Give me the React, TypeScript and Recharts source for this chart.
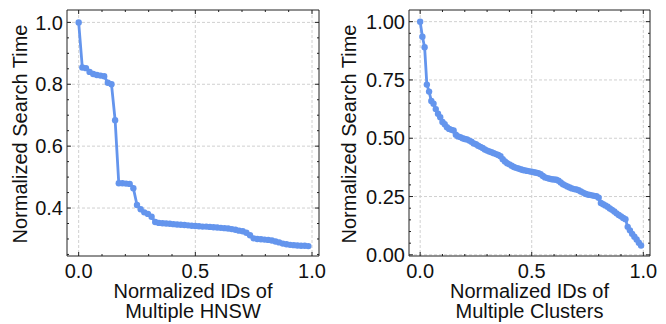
import React from 'react';
import { LineChart, Line, XAxis, YAxis, CartesianGrid, ReferenceArea, Label } from 'recharts';

// ---------- data ----------
const hnswTimes = [
  1.0, 0.854, 0.852, 0.84, 0.833, 0.83, 0.828, 0.826, 0.805, 0.8,
  0.684, 0.48, 0.48, 0.479, 0.478, 0.464, 0.41, 0.396, 0.386, 0.381,
  0.372, 0.355, 0.352, 0.351, 0.35, 0.349, 0.348, 0.347, 0.346, 0.345,
  0.344, 0.343, 0.342, 0.341, 0.34, 0.34, 0.339, 0.338, 0.337, 0.336,
  0.335, 0.334, 0.332, 0.33, 0.327, 0.325, 0.32, 0.312, 0.302, 0.3,
  0.299, 0.298, 0.297, 0.295, 0.292, 0.289, 0.285, 0.283, 0.281, 0.28,
  0.279, 0.278, 0.278, 0.277,
];

const clusterTimes = [
  1.0, 0.935, 0.89, 0.73, 0.7, 0.66, 0.648, 0.625, 0.605, 0.59,
  0.57, 0.56, 0.547, 0.54, 0.536, 0.533, 0.515, 0.508, 0.505, 0.5,
  0.497, 0.495, 0.49, 0.485, 0.478, 0.474, 0.468, 0.463, 0.458, 0.452,
  0.447, 0.443, 0.44, 0.436, 0.432, 0.428, 0.423, 0.41, 0.4, 0.393,
  0.388, 0.382, 0.377, 0.373, 0.37, 0.367, 0.364, 0.362, 0.36, 0.358,
  0.356, 0.354, 0.352, 0.35, 0.346, 0.338, 0.332, 0.329, 0.326, 0.324,
  0.323, 0.322, 0.318, 0.31, 0.303, 0.298, 0.293, 0.289, 0.285, 0.282,
  0.28, 0.277, 0.272, 0.267, 0.262, 0.259, 0.257, 0.255, 0.253, 0.251,
  0.245, 0.222, 0.217, 0.212, 0.206, 0.199, 0.193, 0.186, 0.178, 0.171,
  0.165, 0.158, 0.153, 0.12, 0.105, 0.09, 0.078, 0.066, 0.052, 0.04,
];

const xTicksAll = [0, 0.1, 0.2, 0.3, 0.4, 0.5, 0.6, 0.7, 0.8, 0.9, 1.0];
const xMajorTicks = [0, 0.5, 1.0];

const hnswYTicksAll = [0.25, 0.3, 0.35, 0.4, 0.45, 0.5, 0.55, 0.6, 0.65, 0.7, 0.75, 0.8, 0.85, 0.9, 0.95, 1.0];
const hnswYMajorTicks = [0.4, 0.6, 0.8, 1.0];

const clusterYTicksAll = [0, 0.05, 0.1, 0.15, 0.2, 0.25, 0.3, 0.35, 0.4, 0.45, 0.5, 0.55, 0.6, 0.65, 0.7, 0.75, 0.8, 0.85, 0.9, 0.95, 1.0];
const clusterYMajorTicks = [0, 0.25, 0.5, 0.75, 1.0];

const yLabelText = 'Normalized Search Time';
const hnswXLabel = ['Normalized IDs of', 'Multiple HNSW'];
const clusterXLabel = ['Normalized IDs of', 'Multiple Clusters'];

const toRows = (vals: number[]) => vals.map((t, i) => ({ id: i / vals.length, time: t }));
const hnswData = toRows(hnswTimes);
const clusterData = toRows(clusterTimes);

// ---------- style / layout ----------
const FONT = '"Liberation Sans", Arial, Helvetica, sans-serif';
const BLUE = '#6495ED';
const FRAME = '#222';
const H = 324;
const TOP = 10;
const XAXIS_H = 68;
const PLOT_BOTTOM = H - XAXIS_H;
const FS = 20;
const LFS = 20;

const isMajor = (v: number, majors: number[]) => majors.some((m) => Math.abs(m - v) < 1e-9);

function Panel(props: any) {
  const { width, yW, mRight, data, xDomain, yDomain, yTicks, yMajors, yDecimals, xLabel, yLabelX } = props;
  const plotLeft = yW;
  const plotRight = width - mRight;
  const plotMidX = (plotLeft + plotRight) / 2;
  const plotMidY = (TOP + PLOT_BOTTOM) / 2 + 1;

  const XTick = (p: any) => {
    const c = p.payload.coordinate;
    const v = p.payload.value;
    const major = isMajor(v, xMajorTicks);
    const len = major ? 4 : 2;
    return (
      <g>
        <line x1={c} x2={c} y1={PLOT_BOTTOM} y2={PLOT_BOTTOM - len} stroke={FRAME} strokeWidth={1} />
        <line x1={c} x2={c} y1={TOP} y2={TOP + len} stroke={FRAME} strokeWidth={1} />
        {major && (
          <text x={c} y={PLOT_BOTTOM + 22} textAnchor="middle" fontSize={FS} fontFamily={FONT} fill="#111">
            {v.toFixed(1)}
          </text>
        )}
      </g>
    );
  };

  const YTick = (p: any) => {
    const c = p.payload.coordinate;
    const v = p.payload.value;
    const major = isMajor(v, yMajors);
    const len = major ? 4 : 2;
    return (
      <g>
        <line x1={plotLeft} x2={plotLeft + len} y1={c} y2={c} stroke={FRAME} strokeWidth={1} />
        <line x1={plotRight} x2={plotRight - len} y1={c} y2={c} stroke={FRAME} strokeWidth={1} />
        {major && (
          <text x={plotLeft - 4} y={c} dy="0.36em" textAnchor="end" fontSize={FS} fontFamily={FONT} fill="#111">
            {v.toFixed(yDecimals)}
          </text>
        )}
      </g>
    );
  };

  return (
    <LineChart width={width} height={H} data={data} margin={{ top: TOP, right: mRight, bottom: 0, left: 0 }}>
      <CartesianGrid
        stroke="#d0d0d0"
        strokeDasharray="3 2"
        horizontalValues={yMajors}
        verticalValues={xMajorTicks}
      />
      <XAxis
        dataKey="id"
        type="number"
        domain={xDomain}
        allowDataOverflow
        ticks={xTicksAll}
        interval={0}
        height={XAXIS_H}
        axisLine={false}
        tickLine={false}
        tick={XTick}
      >
        <Label
          content={() => (
            <g>
              <text x={plotMidX} y={PLOT_BOTTOM + 42} textAnchor="middle" fontSize={LFS} fontFamily={FONT} fill="#111">
                {xLabel[0]}
              </text>
              <text x={plotMidX} y={PLOT_BOTTOM + 62} textAnchor="middle" fontSize={LFS} fontFamily={FONT} fill="#111">
                {xLabel[1]}
              </text>
            </g>
          )}
        />
      </XAxis>
      <YAxis
        dataKey="time"
        type="number"
        domain={yDomain}
        allowDataOverflow
        ticks={yTicks}
        interval={0}
        width={yW}
        axisLine={false}
        tickLine={false}
        tick={YTick}
      >
        <Label
          content={() => (
            <text
              x={yLabelX}
              y={plotMidY}
              textAnchor="middle"
              fontSize={LFS}
              fontFamily={FONT}
              fill="#111"
              transform={`rotate(-90, ${yLabelX}, ${plotMidY})`}
            >
              {yLabelText}
            </text>
          )}
        />
      </YAxis>
      <ReferenceArea
        x1={xDomain[0]}
        x2={xDomain[1]}
        y1={yDomain[0]}
        y2={yDomain[1]}
        fill="none"
        fillOpacity={0}
        stroke={FRAME}
        strokeWidth={1}
        ifOverflow="visible"
      />
      <Line
        type="linear"
        dataKey="time"
        stroke={BLUE}
        strokeWidth={2.8}
        dot={{ r: 3.2, fill: BLUE, stroke: 'none' }}
        activeDot={false}
        isAnimationActive={false}
      />
    </LineChart>
  );
}

export default function App() {
  return (
    <div style={{ position: 'absolute', left: 0, top: 0, width: 666, height: 324, background: '#fff' }}>
      <div style={{ position: 'absolute', left: 0, top: 0 }}>
        <Panel
          width={333}
          yW={67}
          mRight={14}
          data={hnswData}
          xDomain={[-0.05, 1.03]}
          yDomain={[0.245, 1.04]}
          yTicks={hnswYTicksAll}
          yMajors={hnswYMajorTicks}
          yDecimals={1}
          xLabel={hnswXLabel}
          yLabelX={26.5}
        />
      </div>
      <div style={{ position: 'absolute', left: 333, top: 0 }}>
        <Panel
          width={333}
          yW={76}
          mRight={16}
          data={clusterData}
          xDomain={[-0.05, 1.03]}
          yDomain={[-0.005, 1.05]}
          yTicks={clusterYTicksAll}
          yMajors={clusterYMajorTicks}
          yDecimals={2}
          xLabel={clusterXLabel}
          yLabelX={23}
        />
      </div>
    </div>
  );
}
